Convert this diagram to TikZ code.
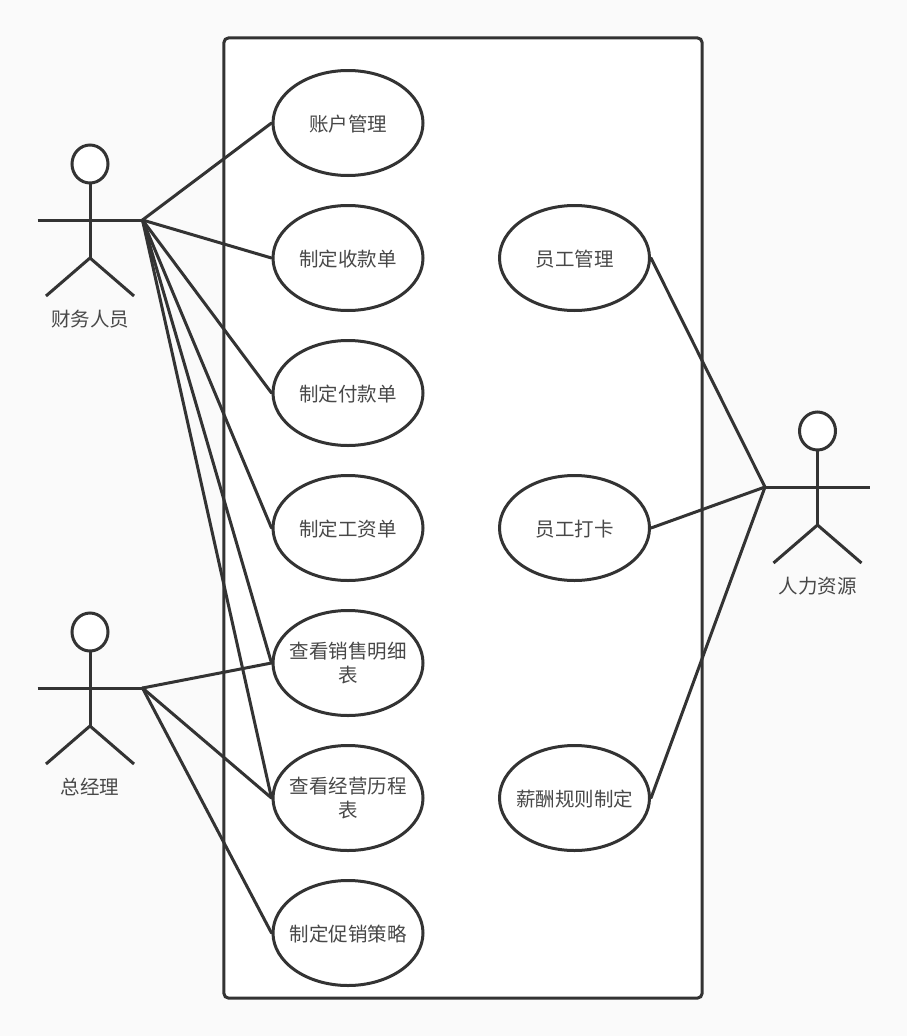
\documentclass[tikz,border=0pt]{standalone}
\usepackage{fontspec}
\setmainfont{Noto Sans CJK SC}
\usetikzlibrary{shapes.geometric}
\definecolor{ink}{HTML}{333333}
\definecolor{txt}{HTML}{484848}
\definecolor{bg}{HTML}{FAFAFA}
\tikzset{
  x=1pt,y=-1pt,
  usecase/.style={ellipse,draw=ink,line width=3pt,fill=white,minimum width=150pt,minimum height=105pt,inner xsep=-12pt,inner ysep=-4pt,align=center,font=\fontsize{19.5pt}{24pt}\selectfont,text=txt,execute at begin node={\rule{0pt}{19pt}}},
  head/.style={ellipse,draw=ink,line width=3pt,fill=white,minimum width=36pt,minimum height=38pt,inner sep=0pt},
  actorlabel/.style={font=\fontsize{19.5pt}{24pt}\selectfont,text=txt,inner sep=0pt},
  stick/.style={draw=ink,line width=3pt},
  link/.style={draw=ink,line width=3pt,line cap=round},
  system/.style={draw=ink,line width=3pt,fill=white,rounded corners=5pt}
}
\newcommand{\stickman}[4]{% id, x, head y, label
  \coordinate (#1arml) at (#2-52.5,#3+56);
  \coordinate (#1armr) at (#2+52.5,#3+56);
  \coordinate (#1neck) at (#2,#3+19);
  \coordinate (#1hip) at (#2,#3+94);
  \coordinate (#1legl) at (#2-44,#3+132);
  \coordinate (#1legr) at (#2+44,#3+132);
  \draw[stick] (#1neck) -- (#1hip);
  \draw[stick] (#1arml) -- (#1armr);
  \draw[stick] (#1legl) -- (#1hip) -- (#1legr);
  \node[head] (#1head) at (#2,#3) {};
  \node[actorlabel] (#1label) at (#2,#3+155) {#4};
}
\begin{document}
\begin{tikzpicture}
\fill[bg] (0,0) rectangle (907,1036);
\useasboundingbox (0,0) rectangle (907,1036);
\node[draw=none,inner sep=0pt,minimum width=478pt,minimum height=960pt] (sys) at (463,518) {};
\draw[system] (sys.north west) rectangle (sys.south east);
\stickman{fin}{90}{164}{财务人员}
\stickman{mgr}{90}{632}{总经理}
\stickman{hr}{817.5}{431}{人力资源}
\node[usecase] (u1) at (348,123) {账户管理};
\node[usecase] (u2) at (348,258) {制定收款单};
\node[usecase] (u3) at (348,393) {制定付款单};
\node[usecase] (u4) at (348,528) {制定工资单};
\node[usecase] (u5) at (348,663) {查看销售明细\\表};
\node[usecase] (u6) at (348,798) {查看经营历程\\表};
\node[usecase] (u7) at (348,933) {制定促销策略};
\node[usecase] (r1) at (574.5,258) {员工管理};
\node[usecase] (r2) at (574.5,528) {员工打卡};
\node[usecase] (r3) at (574.5,798) {薪酬规则制定};
\foreach \t in {u1,u2,u3,u4,u5,u6} \draw[link] (finarmr) -- (\t.west);
\foreach \t in {u5,u6,u7} \draw[link] (mgrarmr) -- (\t.west);
\foreach \t in {r1,r2,r3} \draw[link] (\t.east) -- (hrarml);
\end{tikzpicture}
\end{document}
